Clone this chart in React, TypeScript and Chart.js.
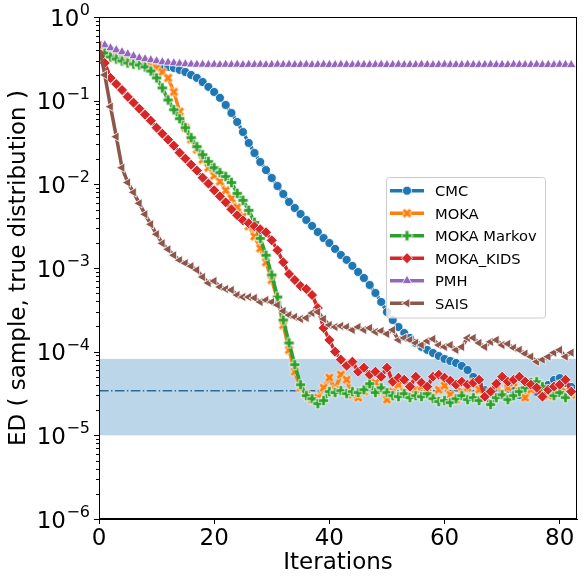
import React, { useEffect, useRef } from 'react';
import { Chart, registerables } from 'chart.js';

Chart.register(...registerables);

const ITERATIONS = [
  0, 1, 2, 3, 4, 5, 6, 7, 8, 9, 10, 11, 12, 13, 14, 15, 16, 17, 18, 19, 20,
  21, 22, 23, 24, 25, 26, 27, 28, 29, 30, 31, 32, 33, 34, 35, 36, 37, 38, 39, 40,
  41, 42, 43, 44, 45, 46, 47, 48, 49, 50, 51, 52, 53, 54, 55, 56, 57, 58, 59, 60,
  61, 62, 63, 64, 65, 66, 67, 68, 69, 70, 71, 72, 73, 74, 75, 76, 77, 78, 79, 80,
  81, 82,
];

const CMC = [
  0.463, 0.438, 0.403, 0.371, 0.342, 0.324, 0.306, 0.29, 0.282, 0.274, 0.267, 0.26, 0.253, 0.246, 0.233, 0.22,
  0.203, 0.187, 0.167, 0.146, 0.127, 0.108, 0.0888, 0.0713, 0.0556, 0.0422, 0.0312, 0.0237, 0.0185, 0.0148,
  0.0119, 0.00955, 0.00767, 0.00615, 0.00521, 0.00442, 0.00375, 0.00318, 0.00269, 0.00228, 0.00199, 0.00169,
  0.00143, 0.00125, 0.00106, 0.000896, 0.00076, 0.000627, 0.000503, 0.000393, 0.000298, 0.000239, 0.000197,
  0.000167, 0.000146, 0.000127, 0.000114, 0.000105, 9.64e-5, 8.87e-5, 8.17e-5, 7.74e-5, 7.33e-5, 6.75e-5,
  6.04e-5, 4.98e-5, 4.0e-5, 3.48e-5, 3.3e-5, 3.68e-5, 3.21e-5, 3.58e-5, 3.39e-5, 3.03e-5, 3.48e-5, 3.68e-5,
  3.3e-5, 3.58e-5, 4.0e-5, 4.59e-5, 4.84e-5, 4.22e-5, 3.79e-5,
];

const MOKA = [
  0.45, 0.403, 0.361, 0.333, 0.315, 0.298, 0.29, 0.282, 0.274, 0.26, 0.246, 0.22, 0.187, 0.127, 0.0739, 0.0475,
  0.0342, 0.026, 0.0197, 0.0158, 0.0127, 0.0108, 0.00848, 0.0068, 0.00531, 0.00414, 0.00315, 0.00239, 0.00172,
  0.00117, 0.000719, 0.000414, 0.000208, 0.000105, 5.77e-5, 3.71e-5, 3.06e-5, 2.67e-5, 2.82e-5, 3.71e-5,
  4.89e-5, 3.51e-5, 5.31e-5, 4.62e-5, 3.06e-5, 2.82e-5, 3.33e-5, 3.92e-5, 4.26e-5, 3.33e-5, 2.67e-5, 3.33e-5,
  4.03e-5, 3.33e-5, 2.98e-5, 3.51e-5, 3.82e-5, 3.24e-5, 2.9e-5, 3.51e-5, 3.92e-5, 3.06e-5, 2.67e-5, 3.33e-5,
  3.71e-5, 4.26e-5, 3.51e-5, 2.82e-5, 3.33e-5, 3.92e-5, 3.24e-5, 3.71e-5, 4.26e-5, 3.33e-5, 2.82e-5, 3.51e-5,
  3.82e-5, 3.24e-5, 2.98e-5, 3.71e-5, 4.03e-5, 3.33e-5, 3.06e-5,
];

const MOKA_MARKOV = [
  0.426, 0.371, 0.333, 0.315, 0.298, 0.282, 0.274, 0.267, 0.253, 0.226, 0.187, 0.142, 0.102, 0.078, 0.0609,
  0.0475, 0.0361, 0.0282, 0.0226, 0.0187, 0.0158, 0.0138, 0.0124, 0.0105, 0.0078, 0.00644, 0.00489, 0.00351,
  0.00226, 0.00142, 0.000825, 0.00045, 0.000239, 0.000127, 6.99e-5, 4.03e-5, 2.98e-5, 2.74e-5, 2.39e-5, 2.6e-5,
  3.33e-5, 3.24e-5, 3.42e-5, 3.15e-5, 3.33e-5, 3.24e-5, 3.51e-5, 4.14e-5, 3.24e-5, 3.71e-5, 3.24e-5, 2.98e-5,
  2.9e-5, 3.15e-5, 2.82e-5, 2.98e-5, 2.9e-5, 3.15e-5, 2.74e-5, 2.53e-5, 2.6e-5, 2.46e-5, 2.74e-5, 2.98e-5,
  2.67e-5, 2.82e-5, 2.6e-5, 2.9e-5, 2.33e-5, 2.82e-5, 3.06e-5, 2.67e-5, 2.98e-5, 3.33e-5, 3.71e-5, 4.26e-5,
  4.38e-5, 3.82e-5, 3.42e-5, 2.98e-5, 3.24e-5, 2.82e-5, 3.33e-5,
];

const MOKA_KIDS = [
  0.438, 0.282, 0.187, 0.158, 0.134, 0.111, 0.0946, 0.0802, 0.068, 0.0577, 0.0475, 0.0403, 0.0342, 0.029,
  0.0239, 0.0203, 0.0172, 0.0146, 0.012, 0.0102, 0.00848, 0.00719, 0.00609, 0.00502, 0.00426, 0.00371, 0.00342,
  0.00315, 0.0029, 0.00267, 0.00214, 0.00163, 0.00117, 0.000848, 0.000719, 0.000609, 0.000561, 0.000475,
  0.000333, 0.000192, 0.000138, 1.0e-4, 8.02e-5, 6.8e-5, 7.59e-5, 5.77e-5, 6.44e-5, 5.31e-5, 5.77e-5, 5.02e-5,
  6.44e-5, 4.38e-5, 4.89e-5, 4.62e-5, 3.82e-5, 5.02e-5, 4.26e-5, 3.82e-5, 5.02e-5, 5.31e-5, 4.89e-5, 4.5e-5,
  4.03e-5, 4.38e-5, 4.03e-5, 4.26e-5, 4.62e-5, 2.9e-5, 3.33e-5, 4.14e-5, 5.02e-5, 4.38e-5, 4.62e-5, 5.02e-5,
  4.38e-5, 4.03e-5, 3.71e-5, 2.9e-5, 3.51e-5, 3.82e-5, 4.03e-5, 4.62e-5, 3.33e-5,
];

const PMH = [
  0.489, 0.462, 0.426, 0.403, 0.382, 0.361, 0.342, 0.324, 0.315, 0.306, 0.298, 0.29, 0.286, 0.282, 0.278, 0.274,
  0.272, 0.27, 0.271, 0.269, 0.27, 0.268, 0.27, 0.269, 0.271, 0.268, 0.27, 0.269, 0.27, 0.268, 0.269, 0.271,
  0.269, 0.27, 0.268, 0.269, 0.27, 0.268, 0.269, 0.27, 0.269, 0.268, 0.27, 0.269, 0.268, 0.27, 0.269, 0.268,
  0.269, 0.27, 0.268, 0.269, 0.27, 0.268, 0.269, 0.268, 0.27, 0.269, 0.268, 0.269, 0.27, 0.268, 0.269, 0.268,
  0.27, 0.269, 0.268, 0.269, 0.27, 0.268, 0.269, 0.268, 0.27, 0.269, 0.268, 0.269, 0.27, 0.268, 0.269, 0.268,
  0.27, 0.269, 0.268,
];

const SAIS = [
  0.462, 0.203, 0.0848, 0.0371, 0.0158, 0.0105, 0.00802, 0.00593, 0.00438, 0.00333, 0.00253, 0.00197, 0.00167,
  0.00142, 0.00124, 0.00114, 0.00105, 0.000946, 0.00078, 0.000662, 0.000699, 0.000593, 0.000561, 0.000546,
  0.000475, 0.00045, 0.00045, 0.000438, 0.000392, 0.000414, 0.000392, 0.000361, 0.000306, 0.000274, 0.00026,
  0.000246, 0.000253, 0.00029, 0.000298, 0.000246, 0.000208, 0.000197, 0.000203, 0.000197, 0.000182, 0.000197,
  0.000182, 0.000192, 0.000172, 0.000177, 0.000163, 0.000182, 0.000138, 0.000146, 0.000138, 0.000127, 0.00012,
  0.000134, 0.000142, 0.00012, 0.000114, 0.00012, 0.000105, 0.000114, 0.000146, 0.000146, 0.000127, 0.000114,
  0.000131, 0.000138, 0.00012, 0.000124, 0.000111, 0.000105, 9.46e-5, 8.71e-5, 7.59e-5, 8.02e-5, 8.71e-5,
  9.73e-5, 0.000105, 8.71e-5, 9.73e-5,
];

const SERIES_NAMES = ['CMC', 'MOKA', 'MOKA Markov', 'MOKA_KIDS', 'PMH', 'SAIS'];
const X_TICKS = [0, 20, 40, 60, 80];
const Y_TICKS = [1, 1e-1, 1e-2, 1e-3, 1e-4, 1e-5, 1e-6];
const Y_TICK_EXPONENTS = ['0', '\u22121', '\u22122', '\u22123', '\u22124', '\u22125', '\u22126'];
const BAND_LOW = 1.0e-5;
const BAND_HIGH = 8.2e-5;
const REF_LEVEL = 3.4e-5;

const COLORS = ['#1f77b4', '#ff7f0e', '#2ca02c', '#d62728', '#9467bd', '#8c564b'];
const FONT = 'DejaVu Sans';

function polyMarker(color: string, rotated: boolean): HTMLCanvasElement {
  const s = 13;
  const c = document.createElement('canvas');
  c.width = s;
  c.height = s;
  const ctx = c.getContext('2d') as CanvasRenderingContext2D;
  ctx.translate(s / 2, s / 2);
  if (rotated) ctx.rotate(Math.PI / 4);
  const L = 5.2;
  const a = 1.8;
  const pts = [
    [-a, -L], [a, -L], [a, -a], [L, -a], [L, a], [a, a],
    [a, L], [-a, L], [-a, a], [-L, a], [-L, -a], [-a, -a],
  ];
  ctx.beginPath();
  pts.forEach(([x, y], i) => (i ? ctx.lineTo(x, y) : ctx.moveTo(x, y)));
  ctx.closePath();
  ctx.fillStyle = color;
  ctx.fill();
  ctx.strokeStyle = '#ffffff';
  ctx.lineWidth = 0.8;
  ctx.stroke();
  return c;
}

function drawMarker(ctx: CanvasRenderingContext2D, kind: string, img: HTMLCanvasElement | null, x: number, y: number, color: string) {
  ctx.save();
  if (img) {
    ctx.drawImage(img, x - img.width / 2, y - img.height / 2);
    ctx.restore();
    return;
  }
  ctx.beginPath();
  if (kind === 'circle') {
    ctx.arc(x, y, 4.5, 0, Math.PI * 2);
  } else if (kind === 'diamond') {
    const r = 5.5;
    ctx.moveTo(x, y - r); ctx.lineTo(x + r, y); ctx.lineTo(x, y + r); ctx.lineTo(x - r, y);
  } else if (kind === 'tri-up') {
    const r = 5.5;
    ctx.moveTo(x, y - r);
    ctx.lineTo(x + r * Math.sin((2 * Math.PI) / 3), y - r * Math.cos((2 * Math.PI) / 3));
    ctx.lineTo(x + r * Math.sin((4 * Math.PI) / 3), y - r * Math.cos((4 * Math.PI) / 3));
  } else if (kind === 'tri-left') {
    const r = 5.5;
    ctx.moveTo(x - r, y);
    ctx.lineTo(x + r * 0.5, y - r * 0.866);
    ctx.lineTo(x + r * 0.5, y + r * 0.866);
  }
  ctx.closePath();
  ctx.fillStyle = color;
  ctx.fill();
  ctx.strokeStyle = '#ffffff';
  ctx.lineWidth = 0.8;
  ctx.stroke();
  ctx.restore();
}

export default function App() {
  const ref = useRef<HTMLCanvasElement>(null);

  useEffect(() => {
    const canvas = ref.current as HTMLCanvasElement;
    const xImg = polyMarker(COLORS[1], true);
    const pImg = polyMarker(COLORS[2], false);
    const series = [CMC, MOKA, MOKA_MARKOV, MOKA_KIDS, PMH, SAIS];
    const markers: any[] = [
      { pointStyle: 'circle', pointRadius: 4.5, pointRotation: 0 },
      { pointStyle: xImg, pointRadius: 5, pointRotation: 0 },
      { pointStyle: pImg, pointRadius: 5, pointRotation: 0 },
      { pointStyle: 'rectRot', pointRadius: 5.5, pointRotation: 0 },
      { pointStyle: 'triangle', pointRadius: 5.5, pointRotation: 0 },
      { pointStyle: 'triangle', pointRadius: 5.5, pointRotation: -90 },
    ];
    const legendKinds = ['circle', 'img', 'img', 'diamond', 'tri-up', 'tri-left'];
    const legendImgs = [null, xImg, pImg, null, null, null];

    const datasets = SERIES_NAMES.map((name, k) => ({
      label: name,
      data: ITERATIONS.map((x, i) => ({ x, y: series[k][i] })),
      borderColor: COLORS[k],
      backgroundColor: COLORS[k],
      pointBackgroundColor: COLORS[k],
      pointBorderColor: '#ffffff',
      pointBorderWidth: 0.8,
      borderWidth: 3.5,
      tension: 0,
      order: SERIES_NAMES.length - k,
      ...markers[k],
    }));

    const decor = {
      id: 'decor',
      beforeDatasetsDraw(chart: any) {
        const { ctx, chartArea: ca, scales } = chart;
        const y = scales.y;
        const t = y.getPixelForValue(BAND_HIGH);
        const b = y.getPixelForValue(BAND_LOW);
        ctx.save();
        ctx.fillStyle = 'rgba(31,119,180,0.3)';
        ctx.fillRect(ca.left, t, ca.right - ca.left, b - t);
        const ry = y.getPixelForValue(REF_LEVEL);
        ctx.strokeStyle = '#2f6a96';
        ctx.lineWidth = 1.5;
        ctx.setLineDash([9.6, 2.4, 1.5, 2.4]);
        ctx.beginPath();
        ctx.moveTo(ca.left, ry);
        ctx.lineTo(ca.right, ry);
        ctx.stroke();
        ctx.restore();
      },
      afterDraw(chart: any) {
        const { ctx, chartArea: ca, scales } = chart;
        const y = scales.y;
        ctx.save();
        // spines
        ctx.strokeStyle = '#000';
        ctx.lineWidth = 1;
        ctx.strokeRect(ca.left + 0.5, ca.top + 0.5, ca.right - ca.left - 1, ca.bottom - ca.top - 1);
        // y ticks
        ctx.beginPath();
        Y_TICKS.forEach((v, i) => {
          const py = Math.round(y.getPixelForValue(v)) + 0.5;
          ctx.moveTo(ca.left - 5, py);
          ctx.lineTo(ca.left, py);
          if (i > 0) {
            for (let m = 2; m <= 9; m++) {
              const pm = Math.round(y.getPixelForValue(v * m)) + 0.5;
              ctx.moveTo(ca.left - 3, pm);
              ctx.lineTo(ca.left, pm);
            }
          }
        });
        ctx.stroke();
        // y tick labels
        ctx.fillStyle = '#000';
        ctx.textBaseline = 'alphabetic';
        ctx.textAlign = 'right';
        const right = ca.left - 9;
        Y_TICKS.forEach((v, i) => {
          const py = y.getPixelForValue(v);
          ctx.font = `16px "${FONT}"`;
          const ew = ctx.measureText(Y_TICK_EXPONENTS[i]).width;
          ctx.fillText(Y_TICK_EXPONENTS[i], right, py - 2);
          ctx.font = `23px "${FONT}"`;
          ctx.fillText('10', right - ew - 0.5, py + 8.5);
        });
        // legend
        const lx = 386.5, ly = 177.5, lw = 159, lh = 140.5;
        ctx.beginPath();
        ctx.roundRect(lx, ly, lw, lh, 3);
        ctx.fillStyle = 'rgba(255,255,255,0.8)';
        ctx.fill();
        ctx.strokeStyle = '#cccccc';
        ctx.lineWidth = 1;
        ctx.stroke();
        SERIES_NAMES.forEach((name, k) => {
          const cy = 190.7 + 22.5 * k;
          ctx.beginPath();
          ctx.strokeStyle = COLORS[k];
          ctx.lineWidth = 3.5;
          ctx.moveTo(390, cy);
          ctx.lineTo(424, cy);
          ctx.stroke();
          drawMarker(ctx, legendKinds[k], legendImgs[k], 407, cy, COLORS[k]);
          ctx.fillStyle = '#000';
          ctx.font = `14.7px "${FONT}"`;
          ctx.textAlign = 'left';
          ctx.textBaseline = 'alphabetic';
          ctx.fillText(name, 435, cy + 5.4);
        });
        ctx.restore();
      },
    };

    const chart = new Chart(canvas, {
      type: 'line',
      data: { datasets: datasets as any },
      options: {
        responsive: false,
        animation: false,
        devicePixelRatio: 1,
        events: [],
        layout: { padding: { top: 17, right: 7, left: 0, bottom: 0 } },
        plugins: { legend: { display: false }, tooltip: { enabled: false } },
        scales: {
          x: {
            type: 'linear',
            position: 'bottom',
            min: 0,
            max: 83,
            afterBuildTicks: (s: any) => {
              s.ticks = X_TICKS.map((v) => ({ value: v }));
            },
            afterFit: (s: any) => {
              s.height = 65;
            },
            ticks: { font: { family: FONT, size: 23 }, color: '#000', padding: 1, maxRotation: 0, autoSkip: false },
            grid: { display: true, drawOnChartArea: false, drawTicks: true, tickLength: 5, tickColor: '#000', tickWidth: 1, color: '#000' },
            border: { display: true, color: '#000', width: 1 },
            title: { display: true, text: 'Iterations', font: { family: FONT, size: 23 }, color: '#000', padding: { top: 0, bottom: 7 } },
          },
          y: {
            type: 'logarithmic',
            min: 1e-6,
            max: 1,
            afterFit: (s: any) => {
              s.width = 99;
            },
            ticks: { display: false },
            grid: { display: false },
            border: { display: true, color: '#000', width: 1 },
            title: { display: true, text: 'ED ( sample, true distribution )', font: { family: FONT, size: 23 }, color: '#000', padding: { top: 5, bottom: 0 } },
          },
        },
      } as any,
      plugins: [decor],
    });

    return () => chart.destroy();
  }, []);

  return (
    <div style={{ position: 'absolute', left: 0, top: 0, width: 584, height: 584, background: '#fff' }}>
      <canvas ref={ref} width={584} height={584} style={{ display: 'block' }} />
    </div>
  );
}
